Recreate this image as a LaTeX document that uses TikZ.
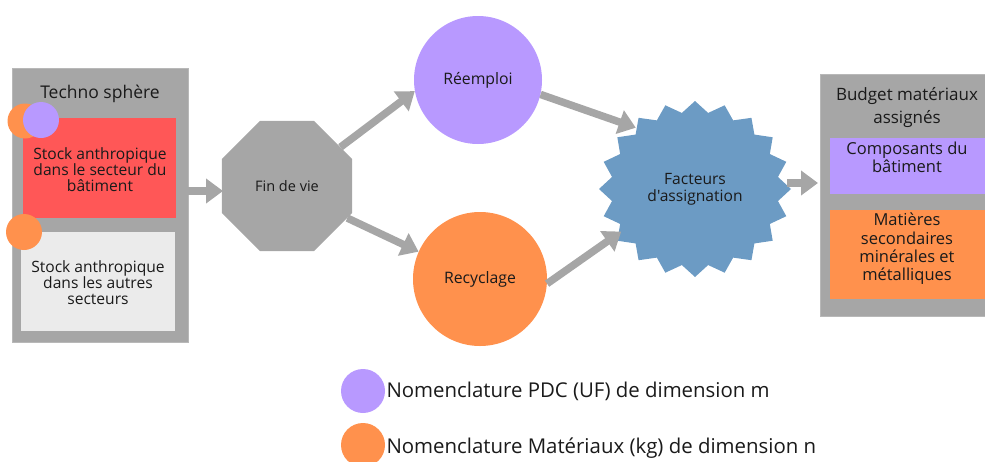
\documentclass[tikz,border=0pt]{standalone}
\usepackage{fontspec}
\setmainfont{Open Sans}
\newfontfamily\plainos{Open Sans}
\usetikzlibrary{shapes.geometric,arrows.meta}
\definecolor{boxgrey}{HTML}{A6A6A6}
\definecolor{lightbox}{HTML}{EBEBEB}
\definecolor{redbox}{HTML}{FF5757}
\definecolor{purp}{HTML}{B899FF}
\definecolor{orng}{HTML}{FF914D}
\definecolor{bluestar}{HTML}{6C9BC4}
\definecolor{txt}{HTML}{1A1A1A}
\tikzset{
  flowarrow/.style={draw=boxgrey, line width=7.5pt, -{Triangle[length=17pt,width=24pt]}},
  rectbox/.style={rectangle, inner sep=0pt, text=txt, align=center},
  lbl/.style={font=\fontsize{15.6}{16}\selectfont, text=txt, align=center},
  lblb/.style={font=\fontsize{16.5}{18.3}\selectfont, text=txt, align=center},
  dot/.style={circle, inner sep=0pt, minimum size=#1},
}
\begin{document}
\begin{tikzpicture}[x=1pt,y=-1pt]
\useasboundingbox (0,0) rectangle (985,461);
% left technosphere box
\node[rectbox, fill=boxgrey, draw=boxgrey!80!white, line width=0.6pt, minimum width=176, minimum height=274, anchor=north west] (techno) at (12,68) {};
\node[font=\fontsize{17.5}{20}\selectfont, text=txt] (technolbl) at (100,94) {Techno sphère};
\node[rectbox, fill=redbox, minimum width=153, minimum height=100, anchor=north west] (stockbat) at (23,118) {};
\node[lbl] (stockbatlbl) at (100,170) {Stock anthropique\\dans le secteur du\\bâtiment};
\node[rectbox, fill=lightbox, minimum width=154, minimum height=99, anchor=north west] (stockaut) at (21,232) {};
\node[lbl] (stockautlbl) at (98,283) {Stock anthropique\\dans les autres\\secteurs};
\node[dot=35, fill=orng] (o1) at (25,121) {};
\node[dot=36, fill=purp] (p1) at (41,120) {};
\node[dot=36, fill=orng] (o2) at (24,232) {};
% fin de vie octagon
\node[regular polygon, regular polygon sides=8, minimum size=141, fill=boxgrey, inner sep=0pt] (fin) at (287,186) {};
\node[font=\fontsize{14.5}{17}\selectfont, text=txt] (finlbl) at (287,186) {Fin de vie};
% circles
\node[dot=128, fill=purp, font=\fontsize{15.8}{18}\selectfont, text=txt] (reemploi) at (478,80) {Réemploi};
\node[dot=134, fill=orng, font=\fontsize{15.8}{18}\selectfont, text=txt] (recyclage) at (480,279) {Recyclage};
% starburst
\fill[bluestar] (695,189) +(96,0) \foreach \i in {1,...,39} { -- +({(mod(\i,2)==0 ? 96 : 84)*cos(\i*9)},{-(mod(\i,2)==0 ? 88 : 77)*sin(\i*9)}) } -- cycle;
\node[circle, minimum size=170, inner sep=0pt, font=\plainos\fontsize{15.6}{17}\selectfont, text=txt, align=center] (burst) at (695,189) {Facteurs\\d'assignation};
% right box
\node[rectbox, fill=boxgrey, draw=boxgrey!80!white, line width=0.6pt, minimum width=170, minimum height=242, anchor=north west] (budget) at (820,74) {};
\node[font=\fontsize{17}{23}\selectfont, text=txt, align=center] (budgetlbl) at (907,108) {Budget matériaux\\assignés};
\node[rectbox, fill=purp, minimum width=160, minimum height=56, anchor=north west] (compo) at (830,138) {};
\node[lblb] (compolbl) at (907,157) {Composants du\\bâtiment};
\node[rectbox, fill=orng, minimum width=160, minimum height=89, anchor=north west] (mat) at (830,210) {};
\node[lblb] (matlbl) at (907,249) {Matières\\secondaires\\minérales et\\métalliques};
% arrows
\coordinate (a1s) at (188,191); \coordinate (a1e) at (223,191);
\draw[flowarrow] (a1s) -- (a1e);
\draw[flowarrow] (fin.36) -- (reemploi.190);
\draw[flowarrow] (fin.-28) -- (recyclage.156);
\draw[flowarrow] (reemploi.-13) -- (burst.134);
\draw[flowarrow] (recyclage.-4) -- (burst.210);
\coordinate (a6s) at (787,183); \coordinate (a6e) at (818,183);
\draw[flowarrow] (a6s) -- (a6e);
% legend
\node[dot=44, fill=purp] (lp) at (363,391) {};
\node[anchor=west, font=\fontsize{20.4}{24}\selectfont, text=txt] (lpl) at (383,391) {Nomenclature PDC (UF) de dimension m};
\node[dot=44, fill=orng] (lo) at (363,445) {};
\node[anchor=west, font=\fontsize{20.4}{24}\selectfont, text=txt] (lol) at (383,448) {Nomenclature Matériaux (kg) de dimension n};
\end{tikzpicture}
\end{document}
